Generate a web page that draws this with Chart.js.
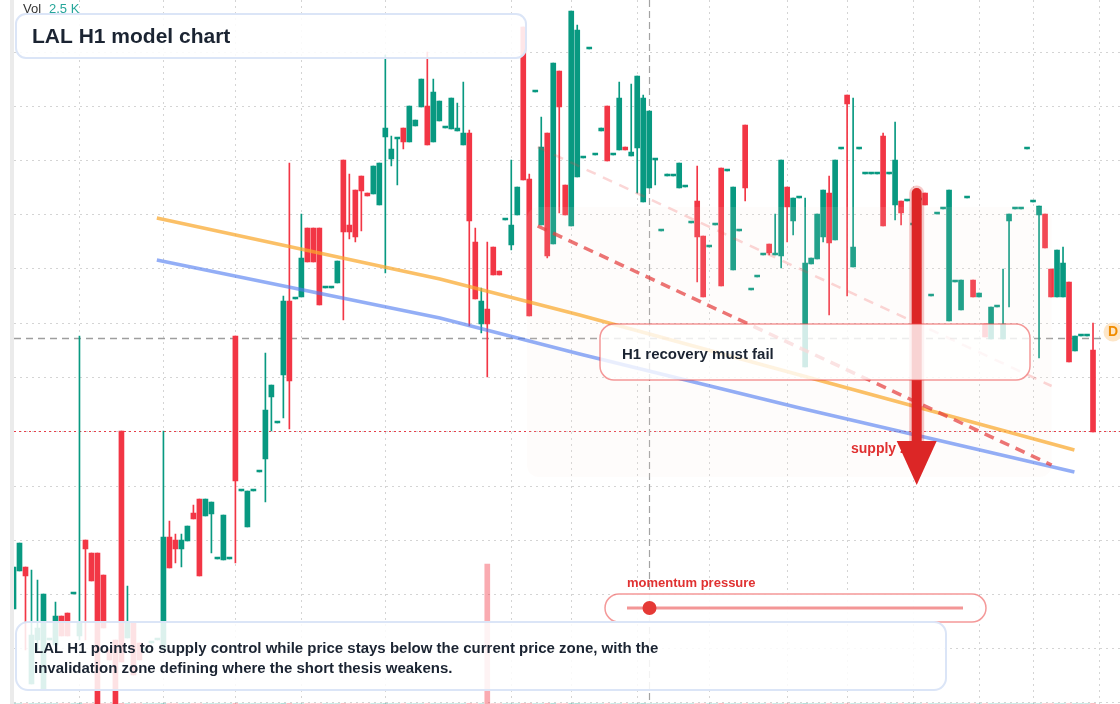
<!DOCTYPE html>
<html><head><meta charset="utf-8">
<script src="https://cdn.jsdelivr.net/npm/chart.js@4.4.1/dist/chart.umd.min.js"></script>
<style>html,body{margin:0;padding:0;background:#fff;overflow:hidden}#wrap{width:1120px;height:704px;position:relative}</style>
</head><body><div id="wrap"><canvas id="c"></canvas></div>
<script>
// ---- data (LAL, H1 candles) ----
const opens = [
10.95,11.33,11.37,10.20,10.64,10.15,10.64,10.59,10.88,10.91,
11.10,10.68,11.64,11.51,11.51,11.29,10.54,10.64,12.73,10.66,
10.82,10.61,10.54,10.61,10.64,10.54,11.67,11.64,11.55,11.63,
11.91,12.05,11.88,11.90,11.45,11.44,11.45,13.68,12.13,11.77,
12.13,12.32,12.45,13.07,12.81,13.29,14.03,14.05,14.07,14.76,
14.76,14.76,14.16,14.16,14.21,15.44,14.79,15.14,15.28,15.11,
15.10,14.99,15.67,15.45,15.65,15.76,15.62,15.78,15.97,15.98,
15.62,15.83,15.76,15.75,15.73,15.59,15.71,14.62,13.80,13.95,
14.57,14.33,14.84,14.59,14.89,16.77,15.25,16.12,14.79,15.71,
14.60,16.33,15.19,14.78,15.27,15.46,16.55,15.49,15.73,15.98,
15.49,15.54,15.57,15.48,15.56,15.02,15.16,15.44,14.73,15.28,
15.28,15.16,15.17,14.81,15.03,14.68,14.57,14.79,15.36,15.33,
14.34,14.73,15.79,14.14,14.27,14.49,14.60,14.49,14.48,15.17,
14.83,15.06,13.37,14.40,14.45,14.67,15.11,14.64,15.55,16.09,
14.37,15.55,15.30,15.30,15.30,15.68,15.30,14.99,15.03,15.03,
14.79,15.04,15.11,14.08,14.90,14.95,13.83,14.22,13.94,15.06,
14.24,14.07,13.80,13.65,13.97,13.65,14.83,14.95,14.95,15.55,
15.02,14.89,14.90,14.35,14.07,14.07,14.22,13.53,13.68,13.68,
13.54];
const highs = [
11.37,11.61,11.37,11.34,11.24,11.10,10.64,11.02,10.88,10.91,
11.10,13.68,11.64,11.51,11.51,11.29,10.54,10.64,12.73,11.18,
10.82,10.61,10.54,10.61,10.64,12.73,11.83,11.70,11.70,11.78,
11.99,12.05,12.05,12.02,11.45,11.89,11.45,13.68,12.13,12.13,
12.13,12.32,13.51,13.19,12.81,14.08,15.41,14.05,14.90,14.76,
14.76,14.76,14.16,14.16,14.43,15.44,15.30,15.14,15.28,15.11,
15.38,15.41,16.49,15.68,15.65,15.76,15.98,15.84,16.25,16.52,
16.25,16.03,15.76,16.06,16.01,16.22,15.74,14.76,14.16,14.62,
14.57,14.33,14.84,15.44,15.17,16.77,15.30,16.12,15.87,15.71,
16.41,16.33,15.19,16.93,16.79,15.46,16.55,15.49,15.76,15.98,
15.49,16.22,15.57,16.20,16.28,16.09,15.93,15.44,14.73,15.30,
15.28,15.41,15.17,14.81,15.38,14.68,14.57,14.79,15.36,15.33,
15.17,14.73,15.79,14.14,14.27,14.49,14.60,14.90,15.44,15.17,
15.06,15.06,15.06,14.46,14.90,15.14,15.28,15.44,15.55,16.09,
16.06,15.55,15.30,15.30,15.30,15.71,15.30,15.82,15.03,15.03,
14.79,15.04,15.11,14.08,14.90,14.95,15.14,14.22,14.24,15.06,
14.24,14.11,13.80,13.97,13.97,14.35,14.90,14.95,14.95,15.55,
15.02,14.98,14.90,14.35,14.54,14.57,14.22,13.68,13.68,13.68,
13.81];
const lows = [
10.95,11.33,10.54,10.20,10.54,10.15,10.64,10.59,10.68,10.68,
11.10,10.64,10.64,11.23,9.89,10.76,10.44,9.89,10.42,10.66,
10.29,10.44,10.54,10.61,10.64,10.54,11.36,11.41,11.37,11.63,
11.85,11.28,11.88,11.51,11.45,11.44,11.45,11.41,12.13,11.77,
12.13,12.32,12.02,12.73,12.81,12.86,12.75,14.05,14.07,14.42,
14.42,13.99,14.16,14.16,14.21,13.84,14.65,14.62,14.73,15.08,
15.10,14.99,14.31,15.38,15.19,15.55,15.62,15.78,15.97,15.59,
15.62,15.83,15.76,15.75,15.73,15.59,13.78,14.05,13.71,13.27,
14.29,14.29,14.84,14.54,14.89,15.24,13.88,16.12,14.79,14.46,
14.60,14.91,14.89,14.78,15.27,15.46,16.55,15.49,15.73,15.43,
15.49,15.54,15.54,15.48,15.11,15.02,15.16,15.19,14.73,15.28,
15.28,15.16,15.17,14.81,14.22,14.07,14.57,14.79,14.18,15.33,
14.34,14.73,15.03,14.14,14.27,14.49,14.49,14.49,14.36,14.62,
14.69,15.06,13.37,14.40,14.45,14.62,13.89,14.64,15.55,14.08,
14.37,15.55,15.30,15.30,15.30,14.78,15.30,14.84,14.79,15.03,
14.79,15.04,14.99,14.08,14.90,14.95,13.83,14.22,13.94,15.06,
14.07,14.07,13.67,13.65,13.97,13.65,13.97,14.95,14.95,15.55,
15.02,13.46,14.56,14.07,14.07,14.07,13.42,13.53,13.68,13.68,
12.72];
const closes = [
11.37,11.61,11.28,10.69,10.76,11.10,10.64,10.88,10.68,10.68,
11.10,10.82,11.55,11.23,9.89,10.76,10.44,9.89,10.42,10.82,
10.29,10.44,10.54,10.61,10.64,11.67,11.36,11.55,11.64,11.78,
11.85,11.28,12.05,12.02,11.45,11.89,11.45,12.23,12.13,12.13,
12.13,12.32,12.94,13.19,12.81,14.03,13.23,14.05,14.46,14.42,
14.42,13.99,14.16,14.16,14.43,14.72,14.72,14.67,15.13,15.08,
15.38,15.41,15.76,15.55,15.65,15.62,15.98,15.84,16.25,15.59,
16.12,16.03,15.76,16.06,15.76,15.71,14.83,14.05,14.03,13.80,
14.29,14.29,14.84,14.79,15.17,15.24,13.88,16.12,15.57,14.48,
16.41,15.97,14.89,16.93,16.74,15.46,16.55,15.49,15.76,15.43,
15.49,16.06,15.54,15.52,16.28,16.06,15.93,15.44,14.73,15.28,
15.28,15.41,15.17,14.81,14.67,14.07,14.57,14.79,14.18,15.33,
15.17,14.73,15.16,14.14,14.27,14.49,14.51,14.49,15.44,14.97,
15.06,15.06,14.41,14.46,14.90,15.14,14.61,15.44,15.55,16.00,
14.57,15.55,15.30,15.30,15.30,14.78,15.30,15.44,14.91,15.03,
14.79,15.04,14.99,14.08,14.90,14.95,15.14,14.22,14.24,15.06,
14.07,14.11,13.67,13.97,13.97,13.80,14.90,14.95,14.95,15.55,
15.02,14.98,14.56,14.07,14.54,14.41,13.42,13.68,13.68,13.68,
12.72];
const volumes = [
6,5,4,5,3,4,3,4,5,3,2,6,5,4,6,4,3,6,7,4,
4,3,2,3,3,7,5,4,4,3,3,5,4,4,2,5,2,8,2,4,
2,3,5,3,2,6,8,2,4,4,4,5,2,2,3,6,4,4,4,2,
4,5,7,3,3,3,5,3,4,5,5,3,2,4,3,4,7,5,5,2500,
4,2,2,4,3,8,7,2,5,6,6,4,3,7,7,2,2,2,3,4,
2,5,2,3,5,6,4,2,2,2,2,3,2,2,4,5,2,2,6,2,
5,2,4,2,2,2,3,2,5,4,3,2,6,2,4,3,4,5,2,4,
4,2,2,2,2,5,2,4,3,2,2,2,2,2,2,2,5,2,3,2,
3,2,3,3,2,3,3,2,2,2,2,5,3,3,4,3,5,2,1,2,
6];
const emptyRightSlots = 4;
const categories = opens.map((_, i) => 'H1 #' + (i + 1)).concat(Array(emptyRightSlots).fill(''));

// levels / drawings (bar index, price)
const gridPrices = [16.52,15.98,15.44,14.90,14.36,13.81,13.27,12.73,12.18,11.64,11.10,10.56,10.02];
const gridBars = [11,25,37,48,62,83,93,104,116,129,139,150,161,170,181];
const lastPrice = 13.66;
const invalidationPrice = 12.73;
const crosshairBar = 106;
const orangeBars = [23.9,71.1,94.4,131.1,176.9];
const orangePrices = [14.86,14.25,13.89,13.29,12.54];
const blueBars = [23.9,71.1,94.4,131.1,176.9];
const bluePrices = [14.44,13.86,13.50,12.96,12.32];
const channelBars = [87.4,173.1];
const channelLower = [14.78,12.39];
const channelUpper = [15.57,13.18];
const zoneBars = [85.6,173.1];
const zonePrices = [14.97,12.27];
const arrowBar = 150.6;
const arrowPrices = [15.11,12.63,12.19]; // start, head base, tip

const GREEN = '#089981', RED = '#f23645';
const FONT = '"Liberation Sans", Arial, Helvetica, sans-serif';
const up = i => closes[i] >= opens[i];

function rr(ctx,x,y,w,h,r){ctx.beginPath();ctx.moveTo(x+r,y);ctx.arcTo(x+w,y,x+w,y+h,r);ctx.arcTo(x+w,y+h,x,y+h,r);ctx.arcTo(x,y+h,x,y,r);ctx.arcTo(x,y,x+w,y,r);ctx.closePath();}

const backdrop = {
  id:'backdrop',
  beforeDatasetsDraw(chart){
    const {ctx, scales:{x,y}} = chart;
    ctx.save();
    ctx.lineWidth = 1; ctx.strokeStyle = 'rgba(0,0,0,0.17)'; ctx.setLineDash([2,4]);
    gridPrices.forEach(p=>{const py=Math.round(y.getPixelForValue(p))+0.5;ctx.beginPath();ctx.moveTo(14,py);ctx.lineTo(1120,py);ctx.stroke();});
    gridBars.forEach(b=>{const px=Math.floor(x.getPixelForValue(b))+0.5;ctx.beginPath();ctx.moveTo(px,0);ctx.lineTo(px,704);ctx.stroke();});
    let py = Math.round(y.getPixelForValue(lastPrice))+0.5;
    ctx.strokeStyle='#9e9e9e'; ctx.lineWidth=1.5; ctx.setLineDash([7,5]);
    ctx.beginPath();ctx.moveTo(14,py);ctx.lineTo(1103,py);ctx.stroke();
    py = Math.round(y.getPixelForValue(invalidationPrice))+0.5;
    ctx.strokeStyle='rgba(232,52,64,0.95)'; ctx.lineWidth=1.2; ctx.setLineDash([2,3]);
    ctx.beginPath();ctx.moveTo(14,py);ctx.lineTo(1120,py);ctx.stroke();
    const cx = Math.floor(x.getPixelForValue(crosshairBar))+0.5;
    ctx.strokeStyle='#a3a3a3'; ctx.lineWidth=1.2; ctx.setLineDash([7,4]);
    ctx.beginPath();ctx.moveTo(cx,0);ctx.lineTo(cx,704);ctx.stroke();
    ctx.restore();
  }
};

const overlay = {
  id:'overlay',
  afterDatasetsDraw(chart){
    const {ctx, scales:{x,y}} = chart;
    const X = b => x.getPixelForValue(b), Y = p => y.getPixelForValue(p);
    ctx.save();
    const zx0=X(zoneBars[0]), zx1=X(zoneBars[1]), zy0=Y(zonePrices[0]), zy1=Y(zonePrices[1]);
    rr(ctx,zx0,zy0,zx1-zx0,zy1-zy0,12); ctx.fillStyle='rgba(246,232,220,0.11)'; ctx.fill();
    ctx.fillStyle='#ebebeb'; ctx.fillRect(10,0,4,704);
    const poly=(bars,prices,color,w,dash)=>{ctx.beginPath();bars.forEach((b,i)=>{const px=X(b),py=Y(prices[i]);i?ctx.lineTo(px,py):ctx.moveTo(px,py);});ctx.strokeStyle=color;ctx.lineWidth=w;ctx.setLineDash(dash);ctx.lineCap='butt';ctx.stroke();};
    poly(orangeBars,orangePrices,'rgba(250,168,45,0.72)',3.5,[]);
    poly(blueBars,bluePrices,'rgba(80,125,240,0.62)',3.5,[]);
    poly(channelBars,channelUpper,'rgba(239,68,68,0.22)',2.5,[10,8]);
    poly(channelBars,channelLower,'rgba(229,62,62,0.72)',3.5,[10,7]);
    ctx.setLineDash([]);
    ctx.font='bold 14px '+FONT; ctx.fillStyle='#e03131'; ctx.textBaseline='alphabetic';
    ctx.fillText('supply zone',851,453);
    const ax=X(arrowBar), ay0=Y(arrowPrices[0]), ayh=Y(arrowPrices[1]), ayt=Y(arrowPrices[2]);
    ctx.lineCap='round';
    ctx.strokeStyle='rgba(220,38,38,0.25)'; ctx.lineWidth=15;
    ctx.beginPath();ctx.moveTo(ax,ay0);ctx.lineTo(ax,ayh);ctx.stroke();
    ctx.strokeStyle='#dc2626'; ctx.lineWidth=10;
    ctx.beginPath();ctx.moveTo(ax,ay0);ctx.lineTo(ax,ayh+2);ctx.stroke();
    ctx.beginPath();ctx.moveTo(ax-20,ayh);ctx.lineTo(ax+20,ayh);ctx.lineTo(ax,ayt);ctx.closePath();
    ctx.fillStyle='#dc2626'; ctx.fill();
    ctx.lineCap='butt';
    rr(ctx,600,324,430,56,14); ctx.fillStyle='rgba(255,255,255,0.8)'; ctx.fill();
    ctx.strokeStyle='rgba(235,70,70,0.55)'; ctx.lineWidth=1.5; ctx.stroke();
    ctx.font='bold 15px '+FONT; ctx.fillStyle='#1b2432';
    ctx.fillText('H1 recovery must fail',622,359);
    rr(ctx,16,14,510,44,10); ctx.fillStyle='rgba(255,255,255,0.88)'; ctx.fill();
    ctx.strokeStyle='#dbe5f7'; ctx.lineWidth=2; ctx.stroke();
    ctx.font='bold 21px '+FONT; ctx.fillStyle='#1b2432';
    ctx.fillText('LAL H1 model chart',32,43);
    ctx.font='13px '+FONT; ctx.fillStyle='#333'; ctx.fillText('Vol',23,13);
    ctx.fillStyle='#26a69a'; ctx.fillText('2.5 K',49,13);
    ctx.font='bold 13px '+FONT; ctx.fillStyle='#e03131';
    ctx.fillText('momentum pressure',627,587);
    rr(ctx,605,594,381,28,14); ctx.fillStyle='rgba(255,255,255,0.92)'; ctx.fill();
    ctx.strokeStyle='rgba(235,70,70,0.55)'; ctx.lineWidth=1.5; ctx.stroke();
    ctx.strokeStyle='rgba(235,80,80,0.6)'; ctx.lineWidth=3;
    ctx.beginPath();ctx.moveTo(627,608);ctx.lineTo(963,608);ctx.stroke();
    ctx.beginPath();ctx.arc(Math.floor(X(crosshairBar))+0.5,608,7,0,Math.PI*2);ctx.fillStyle='#e53935';ctx.fill();
    rr(ctx,16,622,930,68,12); ctx.fillStyle='rgba(255,255,255,0.86)'; ctx.fill();
    ctx.strokeStyle='#dbe5f7'; ctx.lineWidth=2; ctx.stroke();
    ctx.font='bold 15px '+FONT; ctx.fillStyle='#1b2432';
    ctx.fillText('LAL H1 points to supply control while price stays below the current price zone, with the',34,653);
    ctx.fillText('invalidation zone defining where the short thesis weakens.',34,673);
    const dy = Y(lastPrice)-6;
    ctx.beginPath();ctx.arc(1113,dy,9.5,0,Math.PI*2);ctx.fillStyle='#fde6c8';ctx.fill();
    ctx.font='bold 14px '+FONT; ctx.fillStyle='#f08c00'; ctx.textAlign='center'; ctx.textBaseline='middle';
    ctx.fillText('D',1113,dy+0.5);
    ctx.restore();
  }
};

new Chart(document.getElementById('c'), {
  type:'bar',
  data:{
    labels: categories,
    datasets:[
      {label:'body', data: opens.map((o,i)=>[o,closes[i]]), backgroundColor: opens.map((_,i)=>up(i)?GREEN:RED),
       barThickness:5, minBarLength:2, grouped:false, borderWidth:0, yAxisID:'y'},
      {label:'wick', data: lows.map((l,i)=>[l,highs[i]]), backgroundColor: opens.map((_,i)=>up(i)?GREEN:RED),
       barThickness:1, grouped:false, borderWidth:0, yAxisID:'y'},
      {label:'volume', data: volumes, backgroundColor: opens.map((_,i)=>up(i)?'rgba(8,153,129,0.4)':'rgba(242,54,69,0.42)'),
       barThickness:5, grouped:false, borderWidth:0, yAxisID:'yv'}
    ]
  },
  options:{
    responsive:true, maintainAspectRatio:false, animation:false,
    layout:{padding:{left:10.5,right:0,top:0,bottom:0}},
    plugins:{legend:{display:false}, tooltip:{enabled:false}, title:{display:false}},
    scales:{
      x:{display:false, offset:true},
      y:{display:false, min:10.00, max:17.04},
      yv:{display:false, min:0, max:12570}
    }
  },
  plugins:[backdrop, overlay]
});
</script>
</body></html>
